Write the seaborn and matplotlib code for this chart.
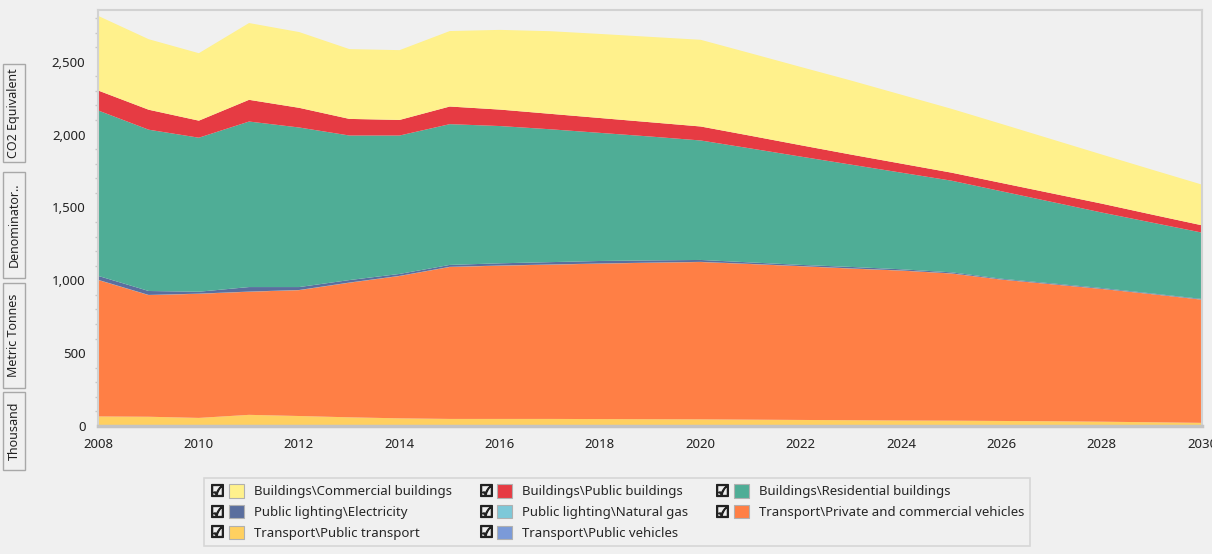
import matplotlib
matplotlib.use("Agg")
import matplotlib.pyplot as plt
from matplotlib.lines import Line2D
from matplotlib.patches import Patch, Rectangle
from matplotlib.legend_handler import HandlerTuple
from matplotlib.ticker import MultipleLocator, FuncFormatter
import seaborn as sns

# data (thousand metric tonnes CO2 equivalent)
years = list(range(2008, 2031))
public_vehicles = [8, 8, 8, 8, 8, 8, 8, 3, 3, 3, 3, 3, 3, 3, 3, 3, 3, 3, 3, 3, 3, 3, 3]
public_transport = [61, 59, 51, 72, 64, 55, 48, 49, 49, 49, 48, 47, 46, 44, 42, 40, 38, 37, 35, 33, 30, 26, 22]
private_vehicles = [936, 835, 852, 845, 864, 924, 977, 1043, 1052, 1059, 1067, 1074, 1080,
                    1068, 1055, 1041, 1029, 1010, 970, 940, 911, 879, 845]
natural_gas = [1] * 23
electricity = [27, 27, 13, 31, 20, 17, 13, 13, 15, 16, 17, 15, 13, 10, 8, 10, 8, 7, 5, 5, 5, 4, 4]
residential = [1135, 1107, 1057, 1136, 1095, 992, 950, 966, 942, 912, 879, 850, 820,
               782, 743, 702, 663, 629, 600, 559, 518, 486, 455]
public_buildings = [137, 137, 117, 149, 135, 114, 107, 121, 113, 106, 102, 98, 96,
                    87, 78, 69, 62, 55, 57, 59, 61, 55, 50]
commercial = [512, 484, 463, 527, 520, 479, 479, 518, 547, 567, 577, 586, 595,
              566, 537, 508, 473, 438, 405, 371, 337, 308, 279]

labels = [
    "Transport\\Public vehicles",
    "Transport\\Public transport",
    "Transport\\Private and commercial vehicles",
    "Public lighting\\Natural gas",
    "Public lighting\\Electricity",
    "Buildings\\Residential buildings",
    "Buildings\\Public buildings",
    "Buildings\\Commercial buildings",
]
series = [public_vehicles, public_transport, private_vehicles, natural_gas,
          electricity, residential, public_buildings, commercial]
palette = sns.color_palette(["#7B9AD8", "#FFD060", "#FF7F45", "#7DC8D8",
                             "#5A6E9E", "#4FAD96", "#E63B43", "#FFF18C"])

sns.set_style("white")
plt.rcParams["font.family"] = ["Noto Sans", "DejaVu Sans"]
bg = "#F0F0F0"

fig = plt.figure(figsize=(12.12, 5.54), dpi=100, facecolor=bg)
ax = fig.add_axes([98 / 1212, 1 - 426 / 554, 1104 / 1212, 416 / 554], facecolor=bg)

ax.stackplot(years, *series, colors=palette, linewidth=0, antialiased=True)

ax.set_xlim(2008, 2030)
ax.set_ylim(0, 2855)
ax.xaxis.set_major_locator(MultipleLocator(2))
ax.yaxis.set_major_locator(MultipleLocator(500))
ax.yaxis.set_minor_locator(MultipleLocator(100))
ax.yaxis.set_major_formatter(FuncFormatter(lambda v, p: f"{int(v):,}"))
ax.tick_params(axis="both", labelsize=9.5, colors="#C0C0C0", labelcolor="#222222")
ax.tick_params(axis="x", length=6, width=1.5, pad=3)
ax.tick_params(axis="y", which="major", length=5, width=1.2, pad=4)
ax.tick_params(axis="y", which="minor", length=2, width=1, colors="#C8C8C8", left=True)
for side, s in ax.spines.items():
    s.set_color("#D2D2D2")
    s.set_linewidth(1.5)
ax.spines["bottom"].set_color("#C4C4C4")
ax.spines["bottom"].set_linewidth(2.5)

# the rotated axis-title buttons on the left
for text, y0, y1 in [("CO2 Equivalent", 64, 162), ("Denominator..", 172, 278),
                     ("Metric Tonnes", 283, 388), ("Thousand", 392, 470)]:
    fig.patches.append(Rectangle((3 / 1212, 1 - y1 / 554), 22 / 1212, (y1 - y0) / 554,
                                 transform=fig.transFigure, facecolor=bg,
                                 edgecolor="#A8A8A8", linewidth=1))
    fig.text(14 / 1212, 1 - (y0 + y1) / 2 / 554, text, rotation=90, ha="center",
             va="center", fontsize=9, color="#222222")

# legend with checkboxes, three columns filled row by row
order = [7, 4, 1, 6, 3, 0, 5, 2]
check = Line2D([], [], linestyle="none", marker="$\u2611$", markersize=8.5,
               color="#222222")
handles = [(check, Patch(facecolor=palette[i], edgecolor="#B0B0B0", linewidth=0.8))
           for i in order]
leg = fig.legend(handles, [labels[i] for i in order], ncol=3, loc="center",
                 bbox_to_anchor=(617 / 1212, 1 - 512 / 554), fontsize=9.5,
                 handler_map={tuple: HandlerTuple(ndivide=None, pad=0.3)},
                 handlelength=2.6, handleheight=1.2, handletextpad=0.75,
                 columnspacing=2.0, labelspacing=0.5, frameon=True,
                 fancybox=False, borderpad=0.45)
leg.get_frame().set_facecolor(bg)
leg.get_frame().set_edgecolor("#D0D0D0")
leg.get_frame().set_linewidth(1.2)

fig.savefig("out.png", dpi=100, facecolor=bg)
